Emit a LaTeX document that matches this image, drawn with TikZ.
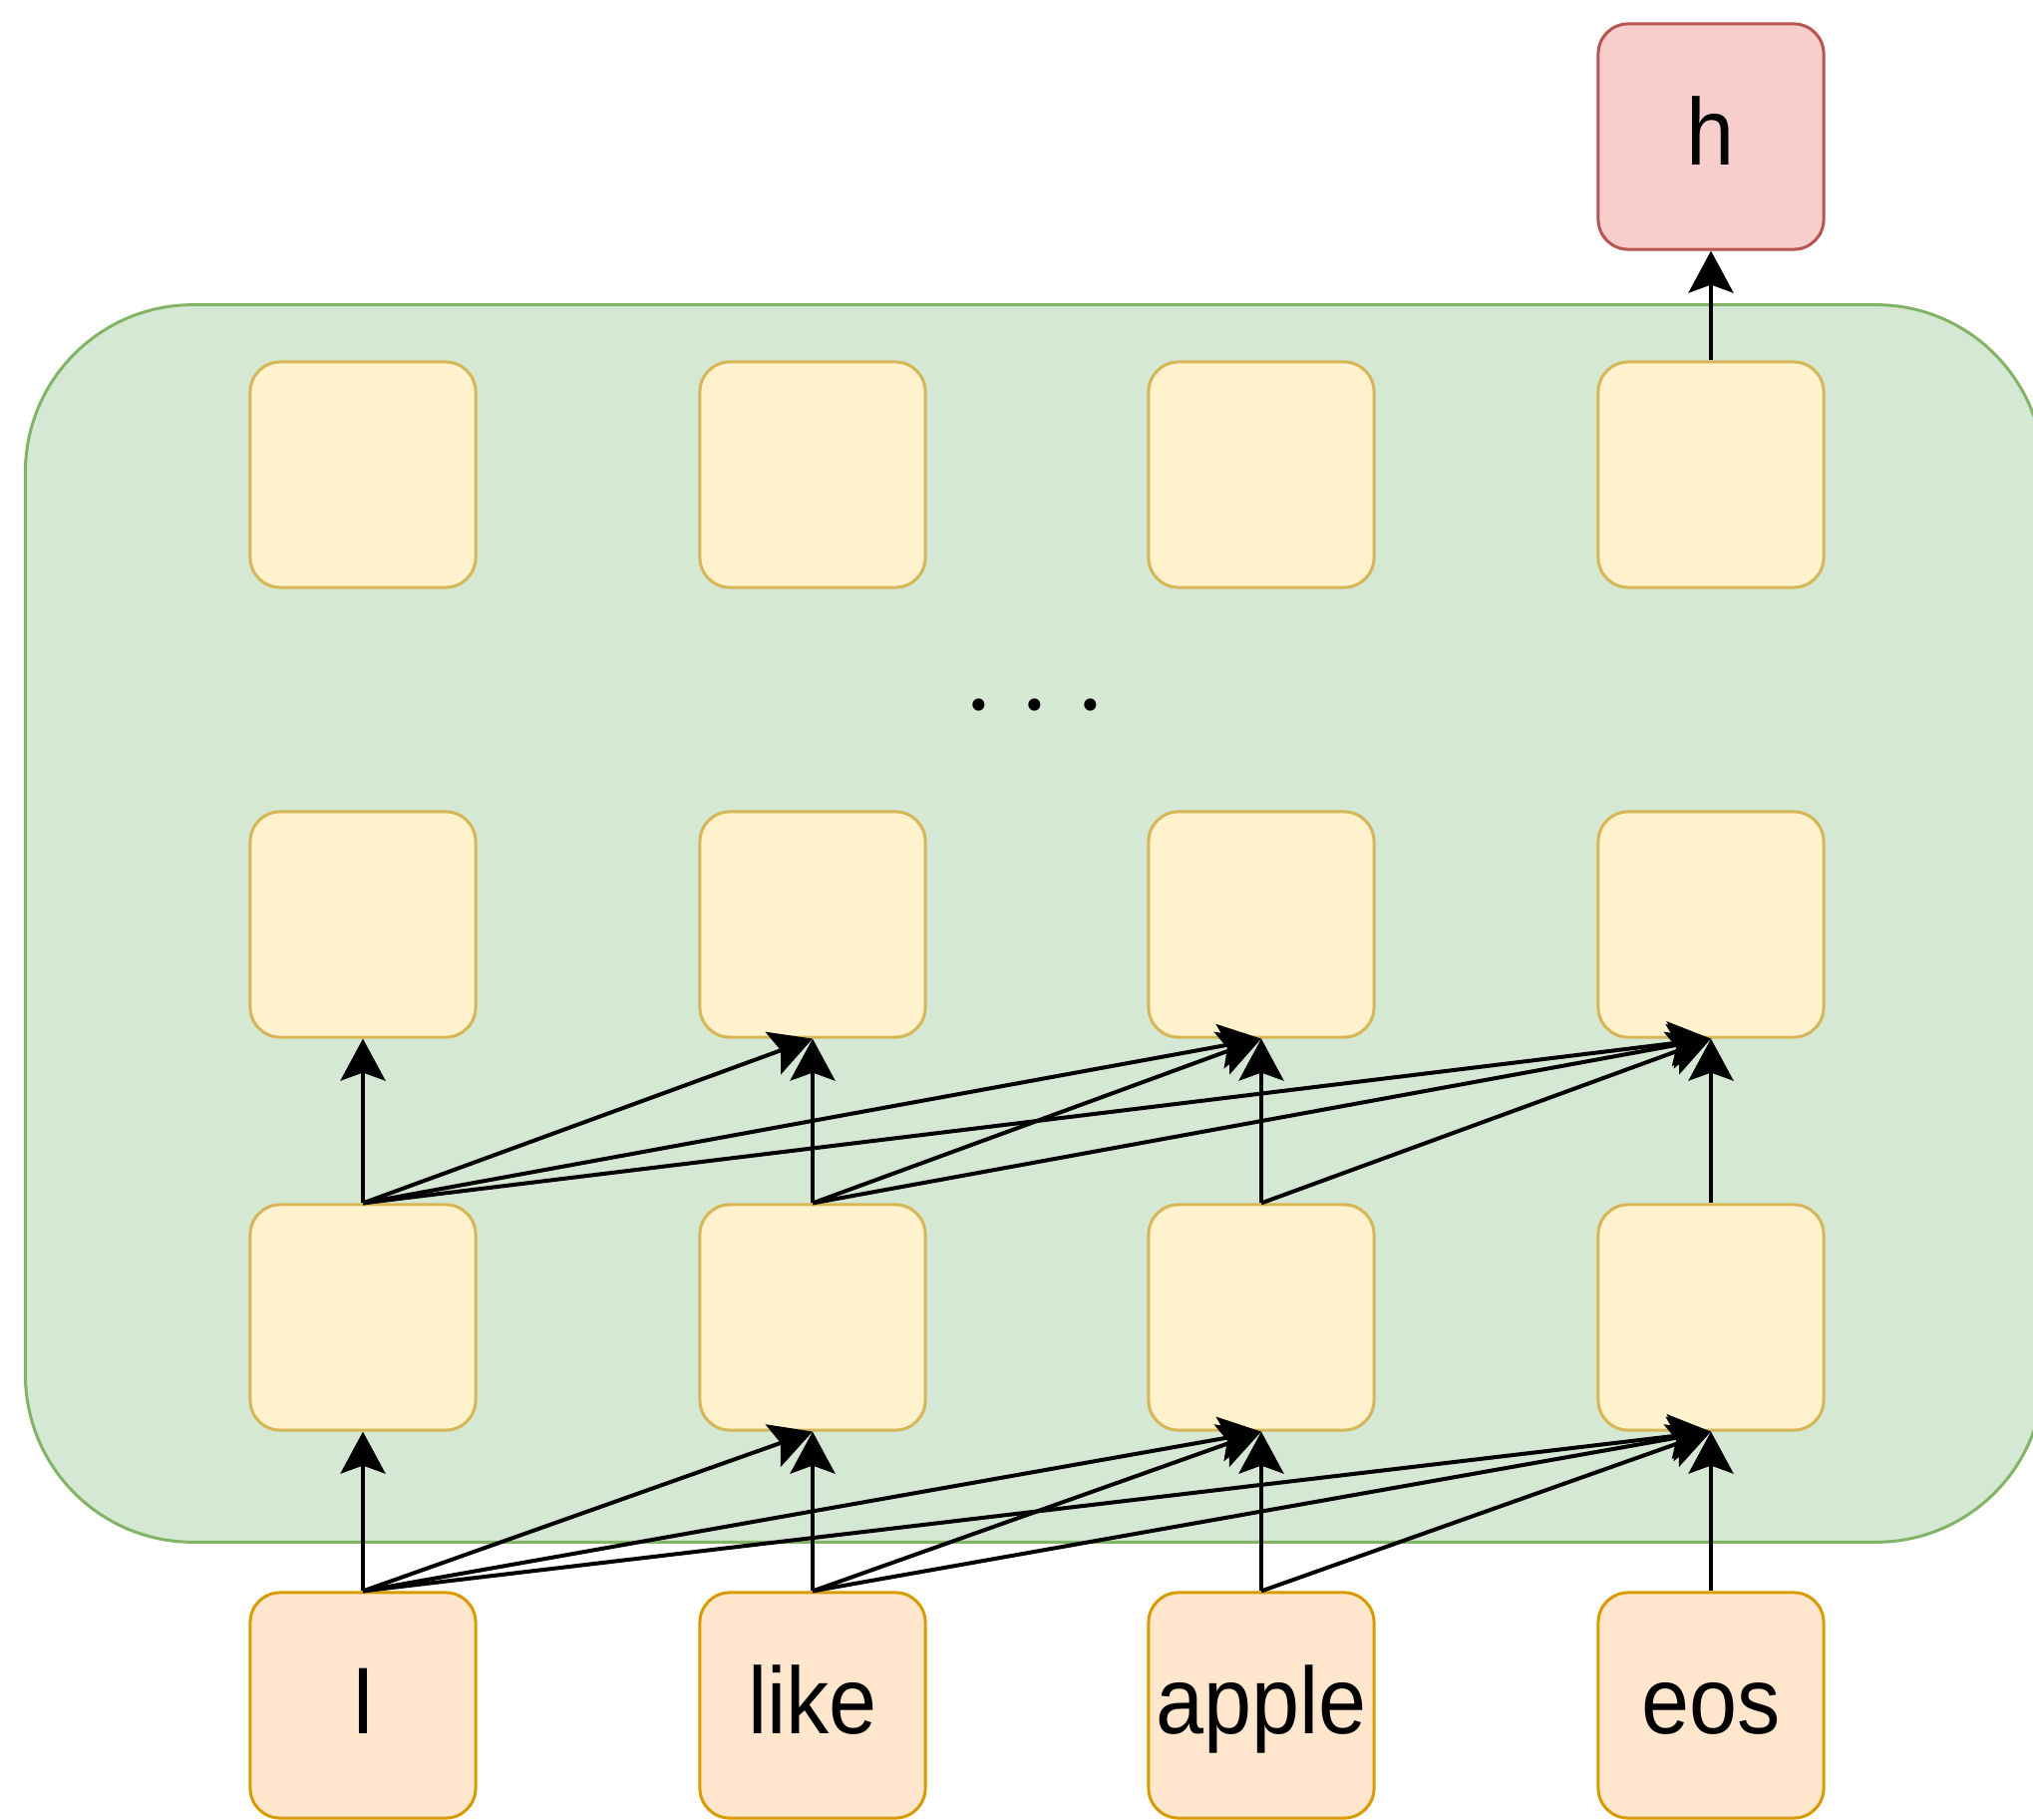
\documentclass[tikz,border=0pt]{standalone}
\usepackage{fontspec}
\setmainfont{Liberation Sans}[FakeStretch=0.91]
\newfontfamily\dotfont{Poppins}
\usetikzlibrary{arrows.meta}
\definecolor{gfill}{HTML}{D5E8D4}
\definecolor{gdraw}{HTML}{82B366}
\definecolor{yfill}{HTML}{FFF2CC}
\definecolor{ydraw}{HTML}{D6B656}
\definecolor{ofill}{HTML}{FFE6CC}
\definecolor{odraw}{HTML}{D79B00}
\definecolor{rfill}{HTML}{F8CECC}
\definecolor{rdraw}{HTML}{B85450}
\tikzset{
  basebox/.style={rectangle, rounded corners=0.3cm, minimum width=2.26cm, minimum height=2.26cm,
    line width=0.03cm, inner sep=0pt, text height=0.70cm, text depth=0.14cm,
    font=\fontsize{27pt}{32pt}\selectfont},
  hidbox/.style={basebox, fill=yfill, draw=ydraw},
  inbox/.style={basebox, fill=ofill, draw=odraw},
  outbox/.style={basebox, fill=rfill, draw=rdraw},
  encbox/.style={rectangle, rounded corners=1.68cm, fill=gfill, draw=gdraw, line width=0.03cm,
    minimum width=20.23cm, minimum height=12.40cm, inner sep=0pt},
  arr/.style={-{Stealth[length=0.42cm,width=0.45cm,inset=0.08cm]}, line width=0.04cm, black},
}
\begin{document}
\begin{tikzpicture}[x=0.01cm,y=-0.01cm]
\path[use as bounding box] (0,0) rectangle (2039,1825);
\clip (0,0) rectangle (2039,1825);
\fill[white] (0,0) rectangle (2039,1825);
\node[encbox] (enc) at (1037.5,926) {};
% columns
\foreach \c/\x/\w in {1/364/I, 2/815/like, 3/1265/apple, 4/1716/eos} {
  \node[hidbox] (t\c) at (\x,476) {};
  \node[hidbox] (m\c) at (\x,927) {};
  \node[hidbox] (b\c) at (\x,1321) {};
  \node[inbox] (in\c) at (\x,1710) {\w};
}
\node[outbox] (h) at (1716,137) {h};
\node[anchor=base, inner sep=0pt, font=\dotfont\fontsize{28pt}{34pt}\selectfont] (dots) at (1038,713)
  {\makebox[0.56cm]{.}\makebox[0.56cm]{.}\makebox[0.56cm]{.}};
% connections
\foreach \i in {1,...,4} {
  \foreach \j in {\i,...,4} {
    \draw[arr] (in\i.north) -- (b\j.south);
    \draw[arr] (b\i.north) -- (m\j.south);
  }
}
\draw[arr] (t4.north) -- (h.south);
\end{tikzpicture}
\end{document}
